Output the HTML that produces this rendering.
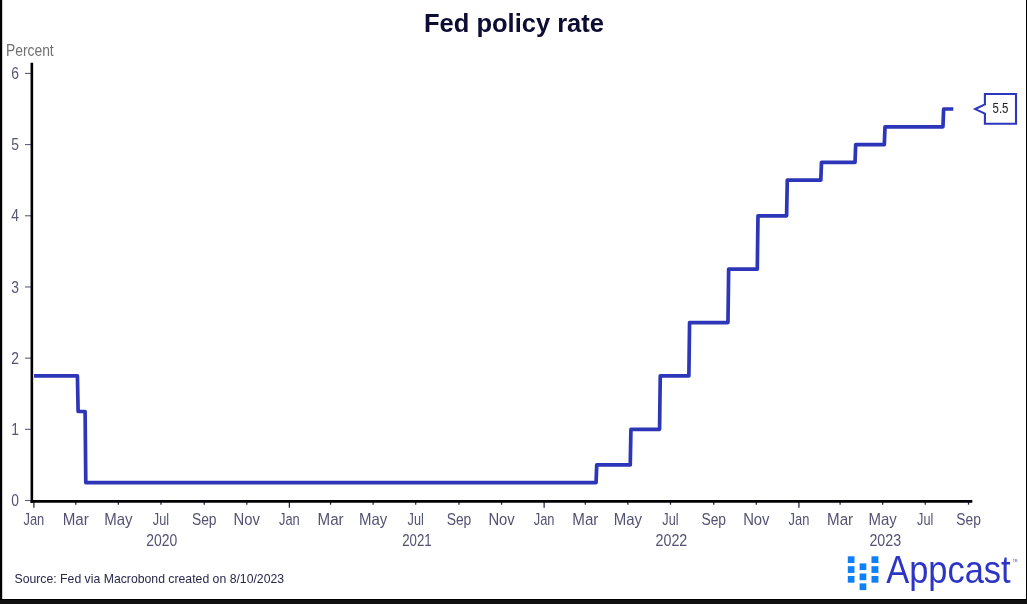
<!DOCTYPE html>
<html><head><meta charset="utf-8"><style>
html,body{margin:0;padding:0;background:#fff;}
body{width:1027px;height:604px;overflow:hidden;position:relative;}
svg{position:absolute;left:0;top:0;will-change:transform;}
text{font-family:"Liberation Sans",sans-serif;}
</style></head><body>
<svg width="1027" height="604" viewBox="0 0 1027 604">
<rect x="0" y="0" width="1027" height="604" fill="#ffffff"/>
<text x="514" y="32" text-anchor="middle" font-size="25.5" font-weight="bold" fill="#0d0d33">Fed policy rate</text>
<text transform="translate(6,56.1) scale(0.85,1)" font-size="16.3" fill="#707070">Percent</text>
<g stroke="#5c5c7c" stroke-width="1.1"><line x1="25" y1="500.50" x2="31" y2="500.50"/><line x1="25" y1="429.32" x2="31" y2="429.32"/><line x1="25" y1="358.14" x2="31" y2="358.14"/><line x1="25" y1="286.96" x2="31" y2="286.96"/><line x1="25" y1="215.78" x2="31" y2="215.78"/><line x1="25" y1="144.60" x2="31" y2="144.60"/><line x1="25" y1="73.42" x2="31" y2="73.42"/></g>
<g font-size="16.5" fill="#545474" text-anchor="end"><text transform="translate(19,506.10) scale(0.84,1)">0</text><text transform="translate(19,434.92) scale(0.84,1)">1</text><text transform="translate(19,363.74) scale(0.84,1)">2</text><text transform="translate(19,292.56) scale(0.84,1)">3</text><text transform="translate(19,221.38) scale(0.84,1)">4</text><text transform="translate(19,150.20) scale(0.84,1)">5</text><text transform="translate(19,79.02) scale(0.84,1)">6</text></g>
<g stroke="#22224a" stroke-width="1.25"><line x1="33.90" y1="502" x2="33.90" y2="507.8"/><line x1="75.78" y1="502" x2="75.78" y2="504.7"/><line x1="118.36" y1="502" x2="118.36" y2="504.7"/><line x1="160.94" y1="502" x2="160.94" y2="504.7"/><line x1="204.21" y1="502" x2="204.21" y2="504.7"/><line x1="246.79" y1="502" x2="246.79" y2="504.7"/><line x1="289.37" y1="502" x2="289.37" y2="507.8"/><line x1="330.55" y1="502" x2="330.55" y2="504.7"/><line x1="373.13" y1="502" x2="373.13" y2="504.7"/><line x1="415.71" y1="502" x2="415.71" y2="504.7"/><line x1="458.98" y1="502" x2="458.98" y2="504.7"/><line x1="501.56" y1="502" x2="501.56" y2="504.7"/><line x1="544.14" y1="502" x2="544.14" y2="507.8"/><line x1="585.32" y1="502" x2="585.32" y2="504.7"/><line x1="627.90" y1="502" x2="627.90" y2="504.7"/><line x1="670.48" y1="502" x2="670.48" y2="504.7"/><line x1="713.75" y1="502" x2="713.75" y2="504.7"/><line x1="756.33" y1="502" x2="756.33" y2="504.7"/><line x1="798.91" y1="502" x2="798.91" y2="507.8"/><line x1="840.09" y1="502" x2="840.09" y2="504.7"/><line x1="882.67" y1="502" x2="882.67" y2="504.7"/><line x1="925.25" y1="502" x2="925.25" y2="504.7"/><line x1="968.52" y1="502" x2="968.52" y2="504.7"/></g>
<g font-size="16.3" fill="#525274" text-anchor="middle"><text transform="translate(33.90,525) scale(0.79,1)">Jan</text><text transform="translate(75.78,525) scale(0.93,1)">Mar</text><text transform="translate(118.36,525) scale(0.92,1)">May</text><text transform="translate(160.94,525) scale(0.78,1)">Jul</text><text transform="translate(204.21,525) scale(0.85,1)">Sep</text><text transform="translate(246.79,525) scale(0.91,1)">Nov</text><text transform="translate(289.37,525) scale(0.79,1)">Jan</text><text transform="translate(330.55,525) scale(0.93,1)">Mar</text><text transform="translate(373.13,525) scale(0.92,1)">May</text><text transform="translate(415.71,525) scale(0.78,1)">Jul</text><text transform="translate(458.98,525) scale(0.85,1)">Sep</text><text transform="translate(501.56,525) scale(0.91,1)">Nov</text><text transform="translate(544.14,525) scale(0.79,1)">Jan</text><text transform="translate(585.32,525) scale(0.93,1)">Mar</text><text transform="translate(627.90,525) scale(0.92,1)">May</text><text transform="translate(670.48,525) scale(0.78,1)">Jul</text><text transform="translate(713.75,525) scale(0.85,1)">Sep</text><text transform="translate(756.33,525) scale(0.91,1)">Nov</text><text transform="translate(798.91,525) scale(0.79,1)">Jan</text><text transform="translate(840.09,525) scale(0.93,1)">Mar</text><text transform="translate(882.67,525) scale(0.92,1)">May</text><text transform="translate(925.25,525) scale(0.78,1)">Jul</text><text transform="translate(968.52,525) scale(0.85,1)">Sep</text></g><g font-size="16.8" fill="#525274" text-anchor="middle"><text transform="translate(161.70,546) scale(0.83,1)">2020</text><text transform="translate(416.90,546) scale(0.79,1)">2021</text><text transform="translate(671.40,546) scale(0.85,1)">2022</text><text transform="translate(885.30,546) scale(0.85,1)">2023</text></g>
<path d="M34.00,375.94 L77.43,375.94 L78.12,411.52 L85.10,411.52 L85.80,482.70 L596.04,482.70 L596.74,464.91 L630.24,464.91 L630.94,429.32 L659.56,429.32 L660.26,375.94 L688.87,375.94 L689.57,322.55 L727.96,322.55 L728.66,269.16 L757.28,269.16 L757.98,215.78 L786.59,215.78 L787.29,180.19 L820.80,180.19 L821.49,162.39 L855.00,162.39 L855.70,144.60 L884.31,144.60 L885.01,126.80 L942.95,126.80 L943.64,109.01 L953.30,109.01" fill="none" stroke="#2d36b8" stroke-width="3.7" stroke-linejoin="round" stroke-linecap="butt"/>
<line x1="31.85" y1="62.7" x2="31.85" y2="503" stroke="#000" stroke-width="2.6"/>
<line x1="30.7" y1="501.4" x2="972.3" y2="501.4" stroke="#000" stroke-width="2.9"/>
<path d="M984.9,94 L1016,94 L1016,123.8 L984.9,123.8 L984.9,113.6 L975.2,109.1 L984.9,104.4 Z" fill="#fff" stroke="#2d36c0" stroke-width="2.1" stroke-linejoin="miter"/>
<text transform="translate(1000.5,113) scale(0.8,1)" font-size="14.3" text-anchor="middle" fill="#222">5.5</text>
<text transform="translate(14.5,583.4) scale(0.901,1)" font-size="13.6" fill="#28284c">Source: Fed via Macrobond created on 8/10/2023</text>
<g fill="#0f7ffa"><rect x="847.8" y="556.3" width="6.7" height="6.7"/><rect x="871.5" y="556.3" width="6.9" height="6.7"/><rect x="847.8" y="566.2" width="6.7" height="6.7"/><rect x="871.5" y="566.2" width="6.9" height="6.7"/><rect x="847.8" y="576.0" width="6.7" height="6.7"/><rect x="871.5" y="576.0" width="6.9" height="6.7"/><rect x="859.6" y="563.4" width="6.7" height="6.7"/><rect x="859.6" y="573.5" width="6.7" height="6.7"/><rect x="859.6" y="583.4" width="6.7" height="6.7"/></g>
<text transform="translate(886.2,583.1) scale(0.897,1)" font-size="38.4" fill="#2d36c4">Appcast</text>
<text transform="translate(1012.8,562) scale(0.8,1)" font-size="4" fill="#2d36c4">TM</text>
<rect x="0" y="0" width="2.2" height="604" fill="#000"/>
<rect x="1026" y="0" width="1" height="604" fill="#000"/>
<rect x="0" y="599" width="1027" height="1" fill="#000"/>
<rect x="0" y="600" width="1027" height="4" fill="#111"/>
</svg>
</body></html>
